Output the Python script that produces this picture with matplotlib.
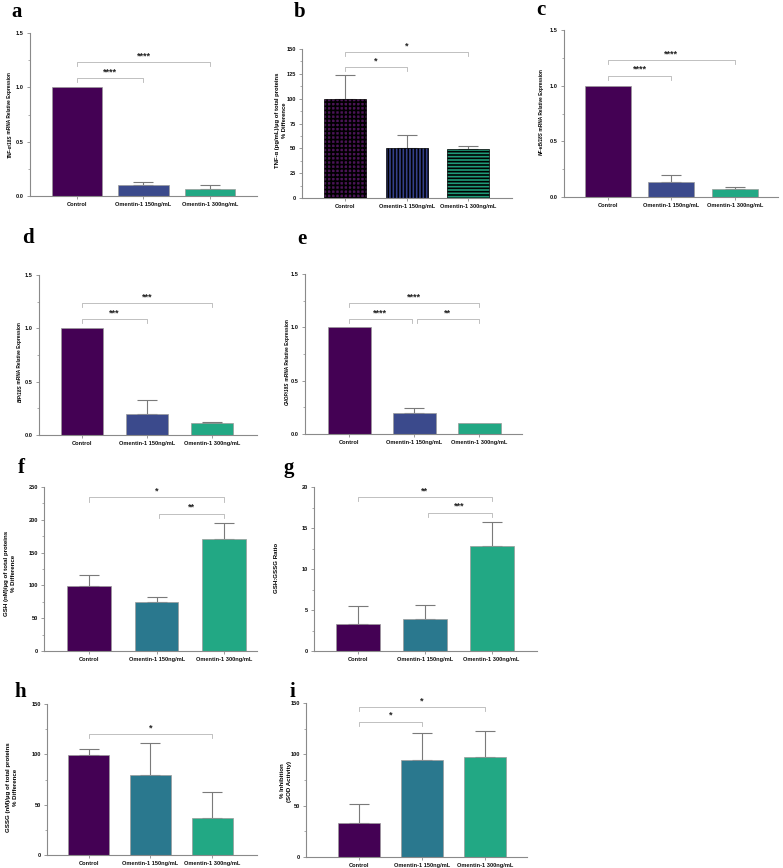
import matplotlib
matplotlib.use("Agg")
import matplotlib.pyplot as plt
from matplotlib.ticker import AutoMinorLocator, MultipleLocator, FormatStrFormatter

plt.rcParams['font.family'] = ['Liberation Sans', 'DejaVu Sans']
plt.rcParams['hatch.linewidth'] = 1.2

W, H = 783, 868
groups = ["Control", "Omentin-1 150ng/mL", "Omentin-1 300ng/mL"]

a_mean = [1.0, 0.10, 0.06]; a_err = [0, 0.03, 0.04]
b_mean = [100, 50, 49.5];   b_err = [24, 13.5, 3]
c_mean = [1.0, 0.135, 0.07]; c_err = [0, 0.065, 0.02]
d_mean = [1.0, 0.20, 0.11]; d_err = [0, 0.13, 0.01]
e_mean = [1.0, 0.20, 0.10]; e_err = [0, 0.045, 0]
f_mean = [99.5, 74, 170];   f_err = [17, 9, 25]
g_mean = [3.35, 3.95, 12.85]; g_err = [2.1, 1.7, 2.85]
h_mean = [99.5, 79.3, 36.5]; h_err = [5.5, 31.7, 25.8]
i_mean = [33.3, 94.6, 97.5]; i_err = [18.2, 25.7, 25.4]

a_sig = [(0, 1, 1.085, '****'), (0, 2, 1.23, '****')]
b_sig = [(0, 1, 131.5, '*'), (0, 2, 147, '*')]
c_sig = [(0, 1, 1.088, '****'), (0, 2, 1.23, '****')]
d_sig = [(0, 1, 1.0875, '***'), (0, 2, 1.234, '***')]
e_sig = [(0, 1, 1.078, '****'), (1, 2, 1.078, '**'), (0, 2, 1.225, '****')]
f_sig = [(1, 2, 209, '**'), (0, 2, 234, '*')]
g_sig = [(1, 2, 16.84, '***'), (0, 2, 18.74, '**')]
h_sig = [(0, 2, 120.2, '*')]
i_sig = [(0, 1, 131.7, '*'), (0, 2, 146, '*')]

a_ylab = ('TNF-α/18S', ' mRNA Relative Expression')
c_ylab = ('NF-κB/18S', ' mRNA Relative Expression')
d_ylab = ('BiP/18S', ' mRNA Relative Expression')
e_ylab = ('CHOP/18S', ' mRNA Relative Expression')

C0 = '#440154'
C1a = '#3b4a8c'
C1b = '#2a788e'
C2 = '#22a884'

fig = plt.figure(figsize=(W / 100, H / 100), dpi=100)
renderer = fig.canvas.get_renderer()


def add_ax(l, t, r, b):
    return fig.add_axes([l / W, 1 - b / H, (r - l) / W, (b - t) / H])


def ftext(x, y, s, **kw):
    return fig.text(x / W, 1 - y / H, s, **kw)


def split_label(x, y, parts, fs):
    # italic gene part followed by normal text, rotated 90, centred at (x, y)
    t1 = ftext(x, y, parts[0], rotation=90, ha='center', va='bottom',
               fontsize=fs, fontweight='bold', fontstyle='italic')
    t2 = ftext(x, y, parts[1], rotation=90, ha='center', va='bottom',
               fontsize=fs, fontweight='bold')
    h1 = t1.get_window_extent(renderer).height
    h2 = t2.get_window_extent(renderer).height
    start = (H - y) - (h1 + h2) / 2
    t1.set_position((x / W, start / H))
    t2.set_position((x / W, (start + h1) / H))


def panel(rect, means, errs, sigs, ymax, major, colors, xlim, width,
          ylabel, ylab_xy, letter, letter_xy, hatches=None, ylab_fs=3.4):
    ax = add_ax(*rect)
    x = list(range(3))
    if hatches is None:
        ax.bar(x, means, width=width, color=colors, edgecolor='#9a9a9a',
               linewidth=0.5, zorder=2)
    else:
        for xi, m, c, h in zip(x, means, colors, hatches):
            ax.bar(xi, m, width=width, color=c, edgecolor='black',
                   hatch=h, linewidth=0.5, zorder=2)
    for xi, m, e in zip(x, means, errs):
        if e > 0:
            ax.errorbar(xi, m, yerr=[[0], [e]], color='#7a7a7a',
                        capsize=7, elinewidth=0.8, capthick=0.8, zorder=1)
    drop = 0.025 * ymax
    has_mid = any(q[0] == 1 for q in sigs)
    for i0, i1, y, s in sigs:
        x0 = i0 + (0.04 if i0 == 1 else 0)
        x1 = i1 - (0.04 if (i0 == 0 and i1 == 1 and has_mid) else 0)
        ax.plot([x0, x0, x1, x1], [y - drop, y, y, y - drop],
                color='#b5b5b5', lw=0.6, zorder=3)
        ax.text((x0 + x1) / 2, y + 0.012 * ymax, s, ha='center', va='bottom',
                fontsize=6.5, fontweight='bold', color='#222222')
    ax.set_ylim(0, ymax)
    ax.set_xlim(*xlim)
    ax.yaxis.set_major_locator(MultipleLocator(major))
    ax.yaxis.set_minor_locator(AutoMinorLocator(2))
    for sp in ['top', 'right']:
        ax.spines[sp].set_visible(False)
    for sp in ['left', 'bottom']:
        ax.spines[sp].set_color('#8a8a8a')
        ax.spines[sp].set_linewidth(0.8)
    ax.tick_params(axis='both', colors='#8a8a8a', length=2.5, width=0.6,
                   labelsize=4.1, labelcolor='#111111', pad=2)
    ax.tick_params(axis='y', which='minor', colors='#8a8a8a', length=1.5,
                   width=0.5)
    ax.set_xticks(x)
    ax.set_xticklabels(groups, fontweight='bold')
    for lab in ax.get_yticklabels():
        lab.set_fontweight('bold')
    if major < 1:
        ax.yaxis.set_major_formatter(FormatStrFormatter('%.1f'))
    if isinstance(ylabel, tuple):
        split_label(ylab_xy[0], ylab_xy[1], ylabel, ylab_fs)
    else:
        ftext(ylab_xy[0], ylab_xy[1], ylabel, rotation=90, ha='center',
              va='center', fontsize=ylab_fs, fontweight='bold',
              multialignment='center', linespacing=1.3)
    ftext(letter_xy[0], letter_xy[1], letter, fontsize=15, fontweight='bold',
          family='Liberation Serif', ha='center', va='center')
    return ax


panel((30, 33, 257, 196), a_mean, a_err, a_sig, 1.5, 0.5, [C0, C1a, C2],
      (-0.7, 2.7), 0.75, a_ylab, (10, 115), 'a', (17, 12))
panel((302, 49, 512, 198), b_mean, b_err, b_sig, 150, 25,
      ['#4a1456', '#34408a', '#1f9a78'], (-0.7, 2.71), 0.68,
      'TNF-α (pg/mL)/µg of total proteins\n% Difference', (281, 120), 'b',
      (300, 12), hatches=['++++', '|||||', '-----'], ylab_fs=4.2)
panel((564, 30, 778, 197), c_mean, c_err, c_sig, 1.5, 0.5, [C0, C1a, C2],
      (-0.69, 2.68), 0.72, c_ylab, (541, 112), 'c', (541, 10))
panel((39, 275, 257, 435), d_mean, d_err, d_sig, 1.5, 0.5, [C0, C1a, C2],
      (-0.66, 2.69), 0.65, d_ylab, (20, 362), 'd', (28, 238))
panel((305, 274, 522, 434), e_mean, e_err, e_sig, 1.5, 0.5, [C0, C1a, C2],
      (-0.68, 2.66), 0.66, e_ylab, (287, 362), 'e', (302, 239))
panel((44, 487, 257, 651), f_mean, f_err, f_sig, 250, 50, [C0, C1b, C2],
      (-0.67, 2.49), 0.65, 'GSH (nM)/µg of total proteins\n% Difference',
      (10, 573), 'f', (21, 468), ylab_fs=4.4)
panel((314, 487, 537, 651), g_mean, g_err, g_sig, 20, 5, [C0, C1b, C2],
      (-0.66, 2.68), 0.66, 'GSH:GSSG Ratio', (276, 568), 'g', (289, 468),
      ylab_fs=4.4)
panel((47, 704, 257, 855), h_mean, h_err, h_sig, 150, 50, [C0, C1b, C2],
      (-0.67, 2.72), 0.66, 'GSSG (nM)/µg of total proteins\n% Difference',
      (12, 787), 'h', (20, 692), ylab_fs=4.4)
panel((306, 703, 527, 857), i_mean, i_err, i_sig, 150, 50, [C0, C1b, C2],
      (-0.84, 2.66), 0.67, '% Inhibition\n(SOD Activity)', (286, 781), 'i',
      (292, 692), ylab_fs=4.4)

fig.savefig('out.png', dpi=100)
